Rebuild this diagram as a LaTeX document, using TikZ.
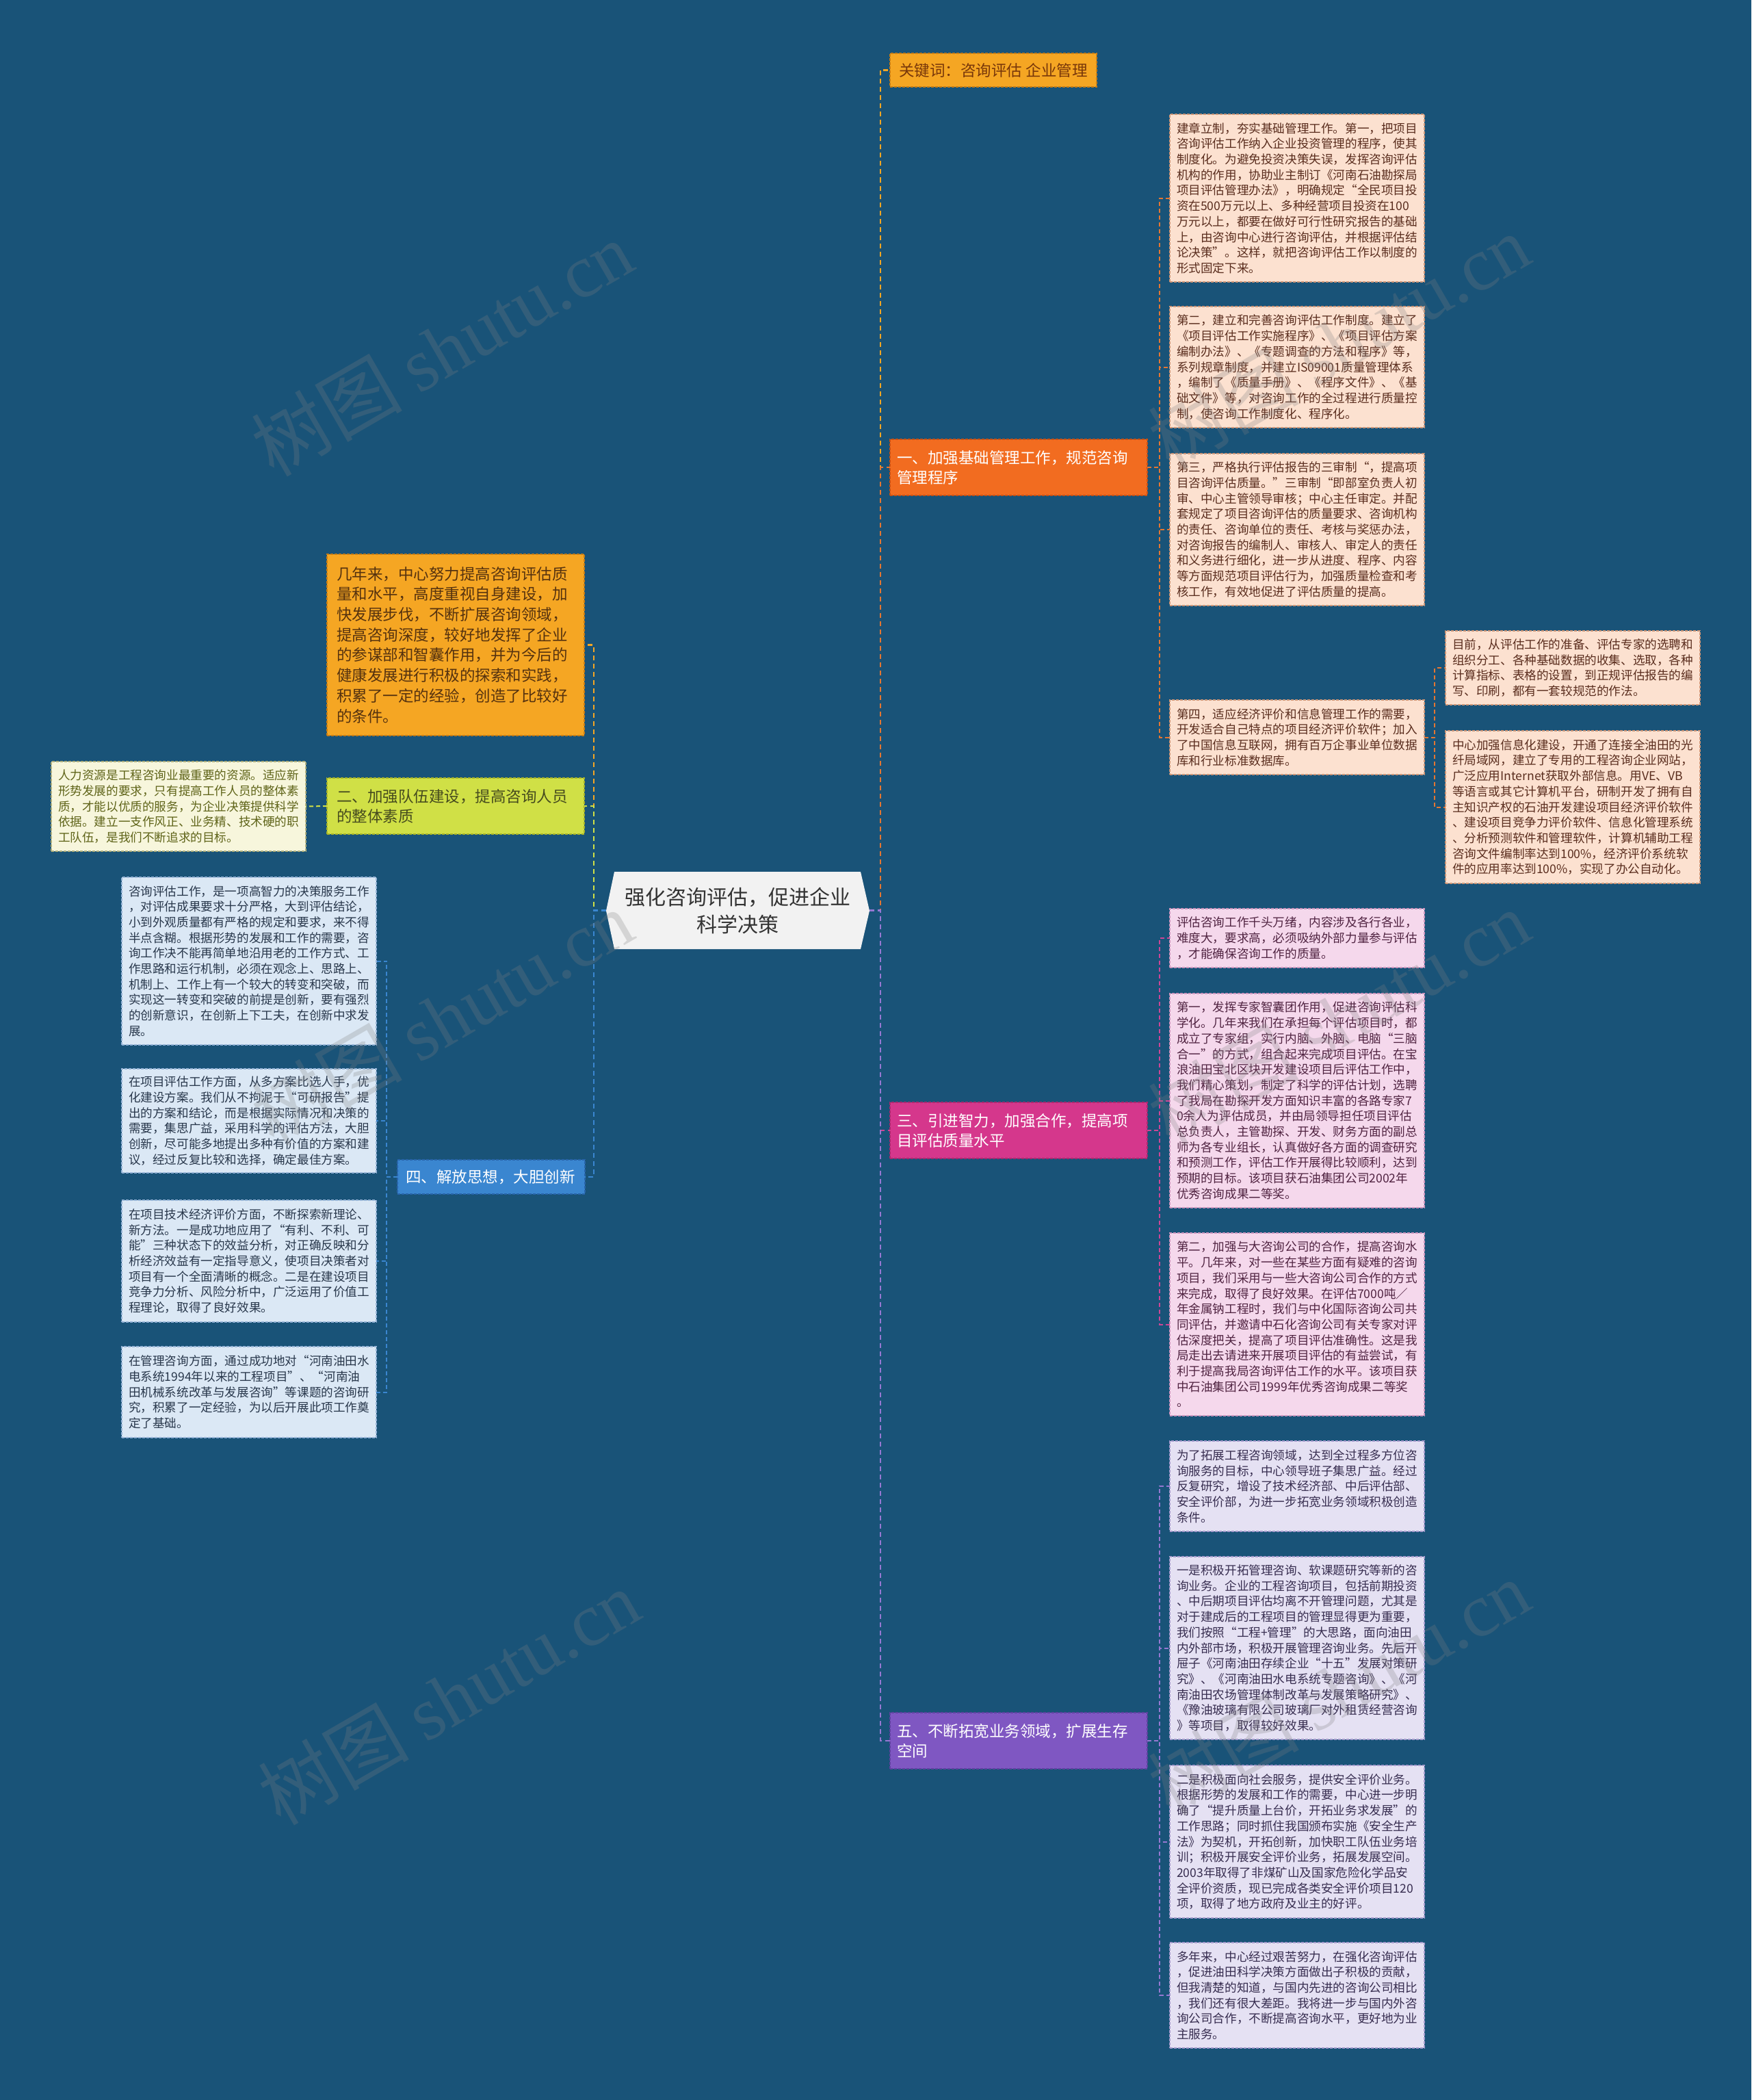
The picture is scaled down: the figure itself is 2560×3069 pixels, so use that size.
\documentclass[tikz,border=0pt]{standalone}
\usepackage{fontspec}
\setmainfont{Noto Sans CJK SC}
\newfontfamily\wmserif{Liberation Serif}
\definecolor{bg}{RGB}{25,83,120}
\definecolor{rootF}{RGB}{242,242,242}
\definecolor{rootT}{RGB}{51,51,51}
\definecolor{kwF}{RGB}{245,166,35}
\definecolor{kwD}{RGB}{200,125,20}
\definecolor{kwT}{RGB}{120,55,10}
\definecolor{b1F}{RGB}{242,108,32}
\definecolor{b1D}{RGB}{200,80,20}
\definecolor{b3F}{RGB}{213,55,140}
\definecolor{b3D}{RGB}{170,40,110}
\definecolor{b5F}{RGB}{127,87,194}
\definecolor{b5D}{RGB}{95,65,160}
\definecolor{b4F}{RGB}{58,134,208}
\definecolor{b4D}{RGB}{40,100,170}
\definecolor{b2F}{RGB}{208,224,70}
\definecolor{b2D}{RGB}{165,178,40}
\definecolor{b2T}{RGB}{70,75,30}
\definecolor{jnF}{RGB}{245,166,35}
\definecolor{jnD}{RGB}{200,125,20}
\definecolor{jnT}{RGB}{85,50,15}
\definecolor{peachF}{RGB}{252,225,208}
\definecolor{peachT}{RGB}{90,45,30}
\definecolor{peachD}{RGB}{205,150,120}
\definecolor{pinkF}{RGB}{245,216,236}
\definecolor{pinkT}{RGB}{80,35,65}
\definecolor{pinkD}{RGB}{205,150,190}
\definecolor{lavF}{RGB}{229,225,243}
\definecolor{lavT}{RGB}{55,45,80}
\definecolor{lavD}{RGB}{165,155,205}
\definecolor{lbF}{RGB}{219,232,245}
\definecolor{lbT}{RGB}{40,55,75}
\definecolor{lbD}{RGB}{150,180,215}
\definecolor{crF}{RGB}{247,246,220}
\definecolor{crT}{RGB}{95,100,25}
\definecolor{crD}{RGB}{175,175,125}
\definecolor{ckw}{RGB}{245,166,35}
\definecolor{c1}{RGB}{228,118,50}
\definecolor{c3}{RGB}{206,70,150}
\definecolor{c5}{RGB}{150,120,210}
\definecolor{c2}{RGB}{208,224,70}
\definecolor{c4}{RGB}{58,134,208}
\definecolor{cjn}{RGB}{245,166,35}
\tikzset{
  boxbase/.style={rectangle, anchor=north west, outer sep=0pt, inner ysep=0pt, align=left,
    line width=1.5pt, dash pattern=on 4pt off 2pt},
  leaf/.style={boxbase, inner xsep=10pt, text width=352pt, font=\fontsize{17.6}{22.7}\selectfont},
  peach/.style={leaf, fill=peachF, draw=peachD, text=peachT},
  pinkbox/.style={leaf, fill=pinkF, draw=pinkD, text=pinkT},
  lavbox/.style={leaf, fill=lavF, draw=lavD, text=lavT},
  lbbox/.style={leaf, fill=lbF, draw=lbD, text=lbT},
  crbox/.style={leaf, fill=crF, draw=crD, text=crT},
  branch/.style={boxbase, inner xsep=10pt, font=\fontsize{22.5}{29}\selectfont},
  rootstyle/.style={rectangle, minimum width=385pt, minimum height=113pt, inner sep=0pt,
    align=center, font=\fontsize{30}{40}\selectfont, text=rootT},
  trunk/.style={line width=2.5pt, dash pattern=on 7pt off 5pt},
  twig/.style={line width=2pt, dash pattern=on 6pt off 4pt},
  wm/.style={rotate=30, text=gray, opacity=0.26, font=\fontsize{110}{110}\selectfont},
}
\begin{document}
\begin{tikzpicture}[x=1pt,y=-1pt]
\useasboundingbox (0,0) rectangle (2560,3069);
\fill[bg] (0,0) rectangle (2560,3069);

% root
\fill[rootF] (898,1274) -- (1258,1274) -- (1271,1331) -- (1258,1387) -- (898,1387) -- (886,1331) -- cycle;
\node[rootstyle] (root) at (1078.5,1330.5) {强化咨询评估，促进企业\\科学决策};

% right branches
\node[branch, fill=kwF, draw=kwD, text=kwT, minimum width=302pt, minimum height=49pt] (kw) at (1301,78) {关键词：咨询评估 企业管理};
\node[branch, fill=b1F, draw=b1D, text=white, text width=356pt, minimum height=82pt] (b1) at (1301,642) {一、加强基础管理工作，规范咨询\\管理程序};
\node[branch, fill=b3F, draw=b3D, text=white, text width=356pt, minimum height=82pt] (b3) at (1301,1611) {三、引进智力，加强合作，提高项\\目评估质量水平};
\node[branch, fill=b5F, draw=b5D, text=white, text width=356pt, minimum height=82pt] (b5) at (1301,2503) {五、不断拓宽业务领域，扩展生存\\空间};

% left branches
\node[branch, inner xsep=14pt, fill=jnF, draw=jnD, text=jnT, text width=348pt, minimum height=265pt, font=\fontsize{22.5}{29.7}\selectfont] (jn) at (478,810) {几年来，中心努力提高咨询评估质\\量和水平，高度重视自身建设，加\\快发展步伐，不断扩展咨询领域，\\提高咨询深度，较好地发挥了企业\\的参谋部和智囊作用，并为今后的\\健康发展进行积极的探索和实践，\\积累了一定的经验，创造了比较好\\的条件。};
\node[branch, inner xsep=14pt, fill=b2F, draw=b2D, text=b2T, text width=348pt, minimum height=82pt] (b2) at (478,1137) {二、加强队伍建设，提高咨询人员\\的整体素质};
\node[branch, inner xsep=12pt, fill=b4F, draw=b4D, text=white, text width=250pt, minimum height=50pt] (b4) at (581,1695) {四、解放思想，大胆创新};

% branch 一 children
\node[peach, minimum height=245pt] (A) at (1710,167) {建章立制，夯实基础管理工作。第一，把项目\\咨询评估工作纳入企业投资管理的程序，使其\\制度化。为避免投资决策失误，发挥咨询评估\\机构的作用，协助业主制订《河南石油勘探局\\项目评估管理办法》，明确规定“全民项目投\\资在500万元以上、多种经营项目投资在100\\万元以上，都要在做好可行性研究报告的基础\\上，由咨询中心进行咨询评估，并根据评估结\\论决策”。这样，就把咨询评估工作以制度的\\形式固定下来。};
\node[peach, minimum height=177pt] (B) at (1710,448) {第二，建立和完善咨询评估工作制度。建立了\\《项目评估工作实施程序》、《项目评估方案\\编制办法》、《专题调查的方法和程序》等，\\系列规章制度，并建立IS09001质量管理体系\\，编制了《质量手册》、《程序文件》、《基\\础文件》等，对咨询工作的全过程进行质量控\\制，使咨询工作制度化、程序化。};
\node[peach, minimum height=222pt] (C) at (1710,663) {第三，严格执行评估报告的三审制“，提高项\\目咨询评估质量。”三审制“即部室负责人初\\审、中心主管领导审核；中心主任审定。并配\\套规定了项目咨询评估的质量要求、咨询机构\\的责任、咨询单位的责任、考核与奖惩办法，\\对咨询报告的编制人、审核人、审定人的责任\\和义务进行细化，进一步从进度、程序、内容\\等方面规范项目评估行为，加强质量检查和考\\核工作，有效地促进了评估质量的提高。};
\node[peach, minimum height=109pt] (D) at (1710,1023) {第四，适应经济评价和信息管理工作的需要，\\开发适合自己特点的项目经济评价软件；加入\\了中国信息互联网，拥有百万企事业单位数据\\库和行业标准数据库。};
\node[peach, minimum height=108pt] (E) at (2113,922) {目前，从评估工作的准备、评估专家的选聘和\\组织分工、各种基础数据的收集、选取，各种\\计算指标、表格的设置，到正规评估报告的编\\写、印刷，都有一套较规范的作法。};
\node[peach, minimum height=223pt] (F) at (2113,1068) {中心加强信息化建设，开通了连接全油田的光\\纤局域网，建立了专用的工程咨询企业网站，\\广泛应用Internet获取外部信息。用VE、VB\\等语言或其它计算机平台，研制开发了拥有自\\主知识产权的石油开发建设项目经济评价软件\\、建设项目竞争力评价软件、信息化管理系统\\、分析预测软件和管理软件，计算机辅助工程\\咨询文件编制率达到100\%，经济评价系统软\\件的应用率达到100\%，实现了办公自动化。};

% branch 三 children
\node[pinkbox, minimum height=86pt] (G) at (1710,1328) {评估咨询工作千头万绪，内容涉及各行各业，\\难度大，要求高，必须吸纳外部力量参与评估\\，才能确保咨询工作的质量。};
\node[pinkbox, minimum height=313pt] (H) at (1710,1452) {第一，发挥专家智囊团作用，促进咨询评估科\\学化。几年来我们在承担每个评估项目时，都\\成立了专家组，实行内脑、外脑、电脑“三脑\\合一”的方式，组合起来完成项目评估。在宝\\浪油田宝北区块开发建设项目后评估工作中，\\我们精心策划，制定了科学的评估计划，选聘\\了我局在勘探开发方面知识丰富的各路专家7\\0余人为评估成员，并由局领导担任项目评估\\总负责人，主管勘探、开发、财务方面的副总\\师为各专业组长，认真做好各方面的调查研究\\和预测工作，评估工作开展得比较顺利，达到\\预期的目标。该项目获石油集团公司2002年\\优秀咨询成果二等奖。};
\node[pinkbox, minimum height=267pt] (I) at (1710,1802) {第二，加强与大咨询公司的合作，提高咨询水\\平。几年来，对一些在某些方面有疑难的咨询\\项目，我们采用与一些大咨询公司合作的方式\\来完成，取得了良好效果。在评估7000吨／\\年金属钠工程时，我们与中化国际咨询公司共\\同评估，并邀请中石化咨询公司有关专家对评\\估深度把关，提高了项目评估准确性。这是我\\局走出去请进来开展项目评估的有益尝试，有\\利于提高我局咨询评估工作的水平。该项目获\\中石油集团公司1999年优秀咨询成果二等奖\\。};

% branch 五 children
\node[lavbox, minimum height=132pt] (J) at (1710,2106) {为了拓展工程咨询领域，达到全过程多方位咨\\询服务的目标，中心领导班子集思广益。经过\\反复研究，增设了技术经济部、中后评估部、\\安全评价部，为进一步拓宽业务领域积极创造\\条件。};
\node[lavbox, minimum height=267pt] (K) at (1710,2275) {一是积极开拓管理咨询、软课题研究等新的咨\\询业务。企业的工程咨询项目，包括前期投资\\、中后期项目评估均离不开管理问题，尤其是\\对于建成后的工程项目的管理显得更为重要，\\我们按照“工程+管理”的大思路，面向油田\\内外部市场，积极开展管理咨询业务。先后开\\屉子《河南油田存续企业“十五”发展对策研\\究》、《河南油田水电系统专题咨询》、《河\\南油田农场管理体制改革与发展策略研究》、\\《豫油玻璃有限公司玻璃厂对外租赁经营咨询\\》等项目，取得较好效果。};
\node[lavbox, minimum height=223pt] (L) at (1710,2580) {二是积极面向社会服务，提供安全评价业务。\\根据形势的发展和工作的需要，中心进一步明\\确了“提升质量上台价，开拓业务求发展”的\\工作思路；同时抓住我国颁布实施《安全生产\\法》为契机，开拓创新，加快职工队伍业务培\\训；积极开展安全评价业务，拓展发展空间。\\2003年取得了非煤矿山及国家危险化学品安\\全评价资质，现已完成各类安全评价项目120\\项，取得了地方政府及业主的好评。};
\node[lavbox, minimum height=154pt] (M) at (1710,2839) {多年来，中心经过艰苦努力，在强化咨询评估\\，促进油田科学决策方面做出子积极的贡献，\\但我清楚的知道，与国内先进的咨询公司相比\\，我们还有很大差距。我将进一步与国内外咨\\询公司合作，不断提高咨询水平，更好地为业\\主服务。};

% branch 二 child
\node[crbox, minimum height=131pt] (hr) at (75,1113) {人力资源是工程咨询业最重要的资源。适应新\\形势发展的要求，只有提高工作人员的整体素\\质，才能以优质的服务，为企业决策提供科学\\依据。建立一支作风正、业务精、技术硬的职\\工队伍，是我们不断追求的目标。};

% branch 四 children
\node[lbbox, minimum height=245pt] (L1) at (178,1282) {咨询评估工作，是一项高智力的决策服务工作\\，对评估成果要求十分严格，大到评估结论，\\小到外观质量都有严格的规定和要求，来不得\\半点含糊。根据形势的发展和工作的需要，咨\\询工作决不能再简单地沿用老的工作方式、工\\作思路和运行机制，必须在观念上、思路上、\\机制上、工作上有一个较大的转变和突破，而\\实现这一转变和突破的前提是创新，要有强烈\\的创新意识，在创新上下工夫，在创新中求发\\展。};
\node[lbbox, minimum height=152pt] (L2) at (178,1562) {在项目评估工作方面，从多方案比选人手，优\\化建设方案。我们从不拘泥于“可研报告”提\\出的方案和结论，而是根据实际情况和决策的\\需要，集思广益，采用科学的评估方法，大胆\\创新，尽可能多地提出多种有价值的方案和建\\议，经过反复比较和选择，确定最佳方案。};
\node[lbbox, minimum height=178pt] (L3) at (178,1754) {在项目技术经济评价方面，不断探索新理论、\\新方法。一是成功地应用了“有利、不利、可\\能”三种状态下的效益分析，对正确反映和分\\析经济效益有一定指导意义，使项目决策者对\\项目有一个全面清晰的概念。二是在建设项目\\竞争力分析、风险分析中，广泛运用了价值工\\程理论，取得了良好效果。};
\node[lbbox, minimum height=133pt] (L4) at (178,1968) {在管理咨询方面，通过成功地对“河南油田水\\电系统1994年以来的工程项目”、“河南油\\田机械系统改革与发展咨询”等课题的咨询研\\究，积累了一定经验，为以后开展此项工作奠\\定了基础。};

% connectors: right trunk
\draw[trunk, ckw] (root.east) -- ++(16,0) |- (kw.west);
\draw[trunk, c1] (root.east) -- ++(16,0) |- (b1.west);
\draw[trunk, c3] (root.east) -- ++(16,0) |- (b3.west);
\draw[trunk, c5] (root.east) -- ++(16,0) |- (b5.west);
% left trunk
\draw[trunk, cjn] (root.west) -- ++(-18,0) |- (jn.east);
\draw[trunk, c2] (root.west) -- ++(-18,0) |- (b2.east);
\draw[trunk, c4] (root.west) -- ++(-18,0) |- (b4.east);
% children
\foreach \n in {A,B,C,D} \draw[twig, c1] (b1.east) -- ++(18,0) |- (\n.west);
\foreach \n in {E,F} \draw[twig, c1] (D.east) -- ++(15,0) |- (\n.west);
\foreach \n in {G,H,I} \draw[twig, c3] (b3.east) -- ++(18,0) |- (\n.west);
\foreach \n in {J,K,L,M} \draw[twig, c5] (b5.east) -- ++(18,0) |- (\n.west);
\draw[twig, c2] (b2.west) -- (hr.east);
\foreach \n in {L1,L2,L3,L4} \draw[twig, c4] (b4.west) -- ++(-16,0) |- (\n.east);

% watermarks
\node[wm] (wm1) at (646,509) {树图 {\wmserif shutu.cn}};
\node[wm] (wm2) at (646,1487) {树图 {\wmserif shutu.cn}};
\node[wm] (wm3) at (656,2480) {树图 {\wmserif shutu.cn}};
\node[wm] (wm4) at (1957,499) {树图 {\wmserif shutu.cn}};
\node[wm] (wm5) at (1957,1487) {树图 {\wmserif shutu.cn}};
\node[wm] (wm6) at (1957,2466) {树图 {\wmserif shutu.cn}};
\end{tikzpicture}
\end{document}
